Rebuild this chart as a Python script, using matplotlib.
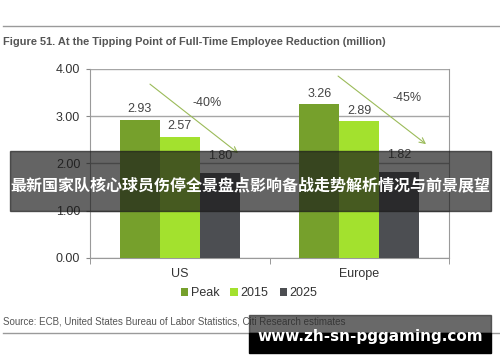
import matplotlib.pyplot as plt
from matplotlib.lines import Line2D
from matplotlib.patches import Rectangle
import numpy as np

plt.rcParams['font.family'] = ['Liberation Sans', 'DejaVu Sans']

# Data
regions = ['US', 'Europe']
series = ['Peak', '2015', '2025']
peak = [2.93, 3.26]
y2015 = [2.57, 2.89]
y2025 = [1.80, 1.82]
declines = ['-40%', '-45%']

colors = ['#76a02c', '#a3e12e', '#4c4e52']

W, H = 500, 362
fig = plt.figure(figsize=(5, 3.62), dpi=100)
ax = fig.add_axes([90 / W, 1 - 258 / H, 359 / W, (258 - 69) / H])

x = np.arange(len(regions))
bw = 0.223
label_off = [3, 3, 8]
for i, (vals, name) in enumerate(zip([peak, y2015, y2025], series)):
    pos = x + (i - 1) * bw
    ax.bar(pos, vals, width=bw, color=colors[i], label=name, zorder=3)
    for p, v in zip(pos, vals):
        ax.annotate(f'{v:.2f}', (p, v), xytext=(0, label_off[i]), textcoords='offset points',
                    ha='center', va='bottom', fontsize=9, color='#444444')

ax.set_xlim(-0.5, 1.5)
ax.set_ylim(0, 4)
ax.set_yticks([0, 1, 2, 3, 4])
ax.set_yticklabels([f'{v:.2f}' for v in [0, 1, 2, 3, 4]], fontsize=9, color='#333333')
ax.yaxis.grid(True, color='#a6a6a6', linewidth=1, zorder=0)
ax.set_xticks(x)
ax.set_xticklabels(regions, fontsize=9, color='#333333')
ax.tick_params(axis='x', length=0, pad=7)
ax.set_xticks([-0.5, 0.5, 1.5], minor=True)
ax.tick_params(axis='x', which='minor', length=4, color='#888888')
ax.tick_params(axis='y', length=3, color='#888888', pad=4)
for s in ['left', 'bottom', 'right', 'top']:
    ax.spines[s].set_color('#9a9a9a')
ax.spines['top'].set_visible(False)

# decline arrows
arrows = [((-0.166, 3.68), (0.325, 2.22), (0.152, 3.28)),
          ((0.882, 3.85), (1.372, 2.41), (1.266, 3.39))]
for (s, e, t), lbl in zip(arrows, declines):
    ax.annotate('', xy=e, xytext=s,
                arrowprops=dict(arrowstyle='->', color='#9bbb59', lw=0.8, shrinkA=0, shrinkB=0))
    ax.text(t[0], t[1], lbl, ha='center', va='center', fontsize=9, color='#444444')

handles, labels = ax.get_legend_handles_labels()
leg = fig.legend(handles, labels, loc='center', bbox_to_anchor=(249 / W, 1 - 293 / H), ncol=3,
                 frameon=False, fontsize=9, handlelength=0.6, handleheight=0.6,
                 handletextpad=0.2, columnspacing=0.9)
for t in leg.get_texts():
    t.set_color('#333333')

# header / footer
fig.add_artist(Line2D([3 / W, 1], [1 - 26 / H] * 2, color='#9a9a9a', lw=1))
fig.text(3 / W, 1 - 42 / H, 'Figure 51. At the Tipping Point of Full-Time Employee Reduction (million)',
         fontsize=7.9, fontweight='bold', color='#555555', va='center', ha='left')
fig.text(3 / W, 1 - 322 / H, 'Source: ECB, United States Bureau of Labor Statistics, Citi Research estimates',
         fontsize=7.0, color='#555555', va='center', ha='left')
fig.add_artist(Line2D([3 / W, 1], [1 - 333 / H] * 2, color='#9a9a9a', lw=1))

# overlay banner
fig.add_artist(Rectangle((10 / W, 1 - 211 / H), 481 / W, 60 / H, transform=fig.transFigure,
                         color='#1a1a1a', alpha=0.68, zorder=10))
fig.text(250 / W, 1 - 185 / H, '最新国家队核心球员伤停全景盘点影响备战走势解析情况与前景展望',
         family=['Noto Sans CJK SC', 'DejaVu Sans'], fontsize=11.5, fontweight='bold',
         color='white', ha='center', va='center', zorder=11)

# watermark box
fig.add_artist(Rectangle((249 / W, 1 - 333 / H), 242 / W, 18 / H, transform=fig.transFigure,
                         color='#2a2a2a', alpha=0.7, zorder=10))
fig.add_artist(Rectangle((249 / W, 1 - 353 / H), 242 / W, 20 / H, transform=fig.transFigure,
                         color='black', zorder=10))
fig.text(370 / W, 1 - 337 / H, 'www.zh-sn-pggaming.com', family=['DejaVu Sans'], fontsize=11,
         fontweight='bold', color='white', ha='center', va='center', zorder=11)

fig.savefig('out.png', dpi=100)
